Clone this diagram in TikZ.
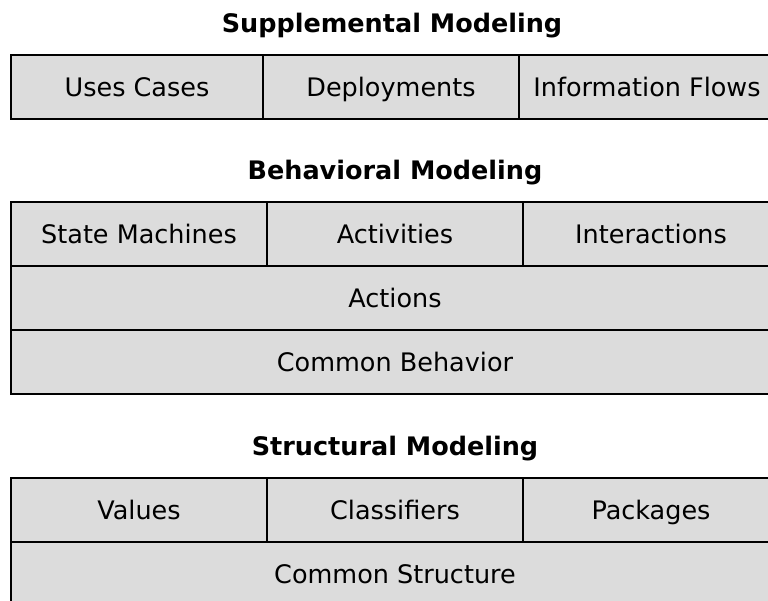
\documentclass[tikz,border=0pt]{standalone}
\usepackage{fontspec}
\setmainfont{DejaVu Sans}
\usepackage{xcolor}
\usetikzlibrary{positioning}
\definecolor{cellgray}{RGB}{220,220,220}

\begin{document}
\begin{tikzpicture}[
    x=1pt,y=-1pt,
    node distance=0pt,
    cell/.style={rectangle,draw=black,fill=cellgray,line width=1.8pt,
      outer sep=0pt,inner sep=0pt,minimum height=64pt,
      text height=18.6pt,text depth=0pt,
      font=\fontsize{25.5}{30}\selectfont},
    wide/.style={cell,minimum width=768pt},
    layertitle/.style={text height=18.6pt,text depth=0pt,
      font=\fontsize{25.5}{30}\selectfont\bfseries}
  ]
    \useasboundingbox (0,0) rectangle (768,601);

    % supplemental
    \node[layertitle] (supptitle) at (392,23) {Supplemental Modeling};
    \node[cell,minimum width=252pt,anchor=north west] (usecases) at (11,55) {Uses Cases};
    \node[cell,minimum width=256pt,right=of usecases] (deploy) {Deployments};
    \node[cell,minimum width=256pt,right=of deploy] (infoflows) {Information Flows};

    % behavioral
    \node[layertitle] (behtitle) at (395,170) {Behavioral Modeling};
    \node[cell,minimum width=256pt,anchor=north west] (statemach) at (11,202) {State Machines};
    \node[cell,minimum width=256pt,right=of statemach] (activities) {Activities};
    \node[cell,minimum width=256pt,right=of activities] (interact) {Interactions};
    \node[wide,anchor=north west] (actions) at (statemach.south west) {Actions};
    \node[wide,below=of actions] (commonbeh) {Common Behavior};

    % structural
    \node[layertitle] (structtitle) at (395,446) {Structural Modeling};
    \node[cell,minimum width=256pt,anchor=north west] (values) at (11,478) {Values};
    \node[cell,minimum width=256pt,right=of values] (classifiers) {Classifiers};
    \node[cell,minimum width=256pt,right=of classifiers] (packages) {Packages};
    \node[wide,anchor=north west] (commonstruct) at (values.south west) {Common Structure};
  \end{tikzpicture}
\end{document}
